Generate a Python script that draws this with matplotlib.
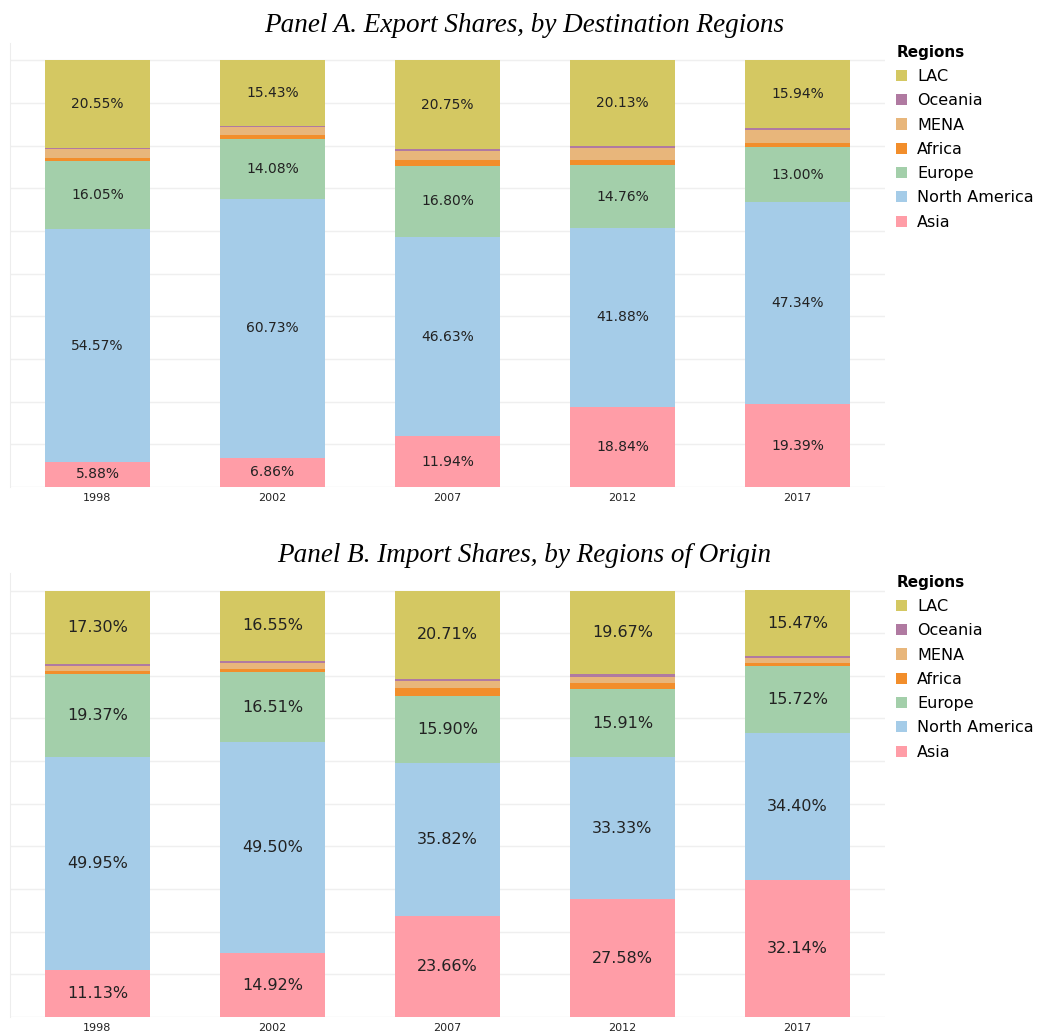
import matplotlib
matplotlib.use("Agg")
import matplotlib.pyplot as plt
from matplotlib.patches import Patch
import numpy as np

years = ["1998", "2002", "2007", "2012", "2017"]
regions = ["Asia", "North America", "Europe", "Africa", "MENA", "Oceania", "LAC"]
colors = {"Asia": "#FF9DA7", "North America": "#A5CCE8", "Europe": "#A3CFAA",
          "Africa": "#F28E2B", "MENA": "#E8B67B", "Oceania": "#B07AA1", "LAC": "#D4C862"}
labeled = ["Asia", "North America", "Europe", "LAC"]

export_asia = [5.88, 6.86, 11.94, 18.84, 19.39]
export_namerica = [54.57, 60.73, 46.63, 41.88, 47.34]
export_europe = [16.05, 14.08, 16.80, 14.76, 13.00]
export_africa = [0.65, 0.78, 1.30, 1.09, 0.95]
export_mena = [2.05, 1.85, 2.18, 2.80, 3.10]
export_oceania = [0.25, 0.27, 0.40, 0.50, 0.28]
export_lac = [20.55, 15.43, 20.75, 20.13, 15.94]

import_asia = [11.13, 14.92, 23.66, 27.58, 32.14]
import_namerica = [49.95, 49.50, 35.82, 33.33, 34.40]
import_europe = [19.37, 16.51, 15.90, 15.91, 15.72]
import_africa = [0.70, 0.70, 1.80, 1.41, 0.63]
import_mena = [1.20, 1.32, 1.56, 1.60, 1.40]
import_oceania = [0.35, 0.50, 0.55, 0.50, 0.25]
import_lac = [17.30, 16.55, 20.71, 19.67, 15.47]

export_data = {"Asia": export_asia, "North America": export_namerica, "Europe": export_europe,
               "Africa": export_africa, "MENA": export_mena, "Oceania": export_oceania, "LAC": export_lac}
import_data = {"Asia": import_asia, "North America": import_namerica, "Europe": import_europe,
               "Africa": import_africa, "MENA": import_mena, "Oceania": import_oceania, "LAC": import_lac}

fig = plt.figure(figsize=(10.38, 10.34), dpi=100)

def panel(rect, data, title, label_size, title_y):
    ax = fig.add_axes(rect)
    x = np.arange(len(years))
    bottom = np.zeros(len(years))
    for r in regions:
        vals = np.array(data[r])
        ax.bar(x, vals, width=0.6, bottom=bottom, color=colors[r], linewidth=0, zorder=2)
        if r in labeled:
            for xi, b, v in zip(x, bottom, vals):
                ax.text(xi, b + v / 2, f"{v:.2f}%", ha="center", va="center",
                        fontsize=label_size, color="#222222", zorder=3)
        bottom += vals
    ax.set_xlim(-0.5, 4.5)
    ax.set_ylim(0, 104)
    ax.set_yticks(np.arange(0, 101, 10))
    ax.set_yticklabels([])
    ax.tick_params(axis="y", length=0)
    ax.tick_params(axis="x", length=0, labelsize=8, pad=4, colors="#222222")
    ax.set_xticks(x)
    ax.set_xticklabels(years)
    ax.grid(axis="y", color="#EFEFEF", linewidth=1, zorder=0)
    for s in ["top", "right", "bottom"]:
        ax.spines[s].set_visible(False)
    ax.spines["left"].set_color("#EDEDED")
    fig.text(0.505, title_y, title, fontsize=19.5, family="Liberation Serif",
             style="italic", ha="center", va="center")
    handles = [Patch(facecolor=colors[r], edgecolor="none") for r in regions[::-1]]
    leg = ax.legend(handles, regions[::-1], loc="upper left", bbox_to_anchor=(1.0, 1.022),
                    frameon=False, title="Regions", alignment="left", fontsize=11.5,
                    handlelength=0.7, handleheight=0.7, handletextpad=0.6,
                    labelspacing=0.58, borderaxespad=0.3)
    leg.get_title().set_fontweight("bold")
    leg.get_title().set_fontsize(11)
    return ax

panel([0.0096, 0.529, 0.843, 0.429], export_data,
      "Panel A. Export Shares, by Destination Regions", 10, 1 - 25 / 1034)
panel([0.0096, 0.0164, 0.843, 0.429], import_data,
      "Panel B. Import Shares, by Regions of Origin", 11.5, 1 - 555 / 1034)

fig.savefig("out.png", dpi=100, facecolor="white")
